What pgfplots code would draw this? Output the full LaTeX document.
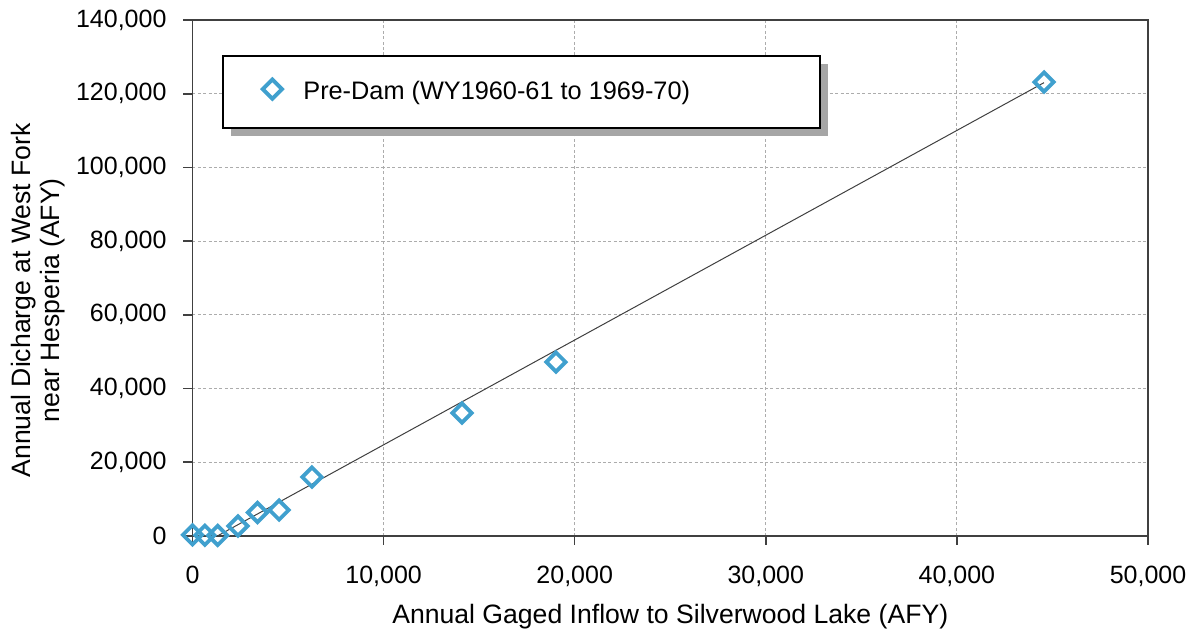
\documentclass[border=0pt]{standalone}
\usepackage{pgfplots}
\pgfplotsset{compat=1.18}
\usepackage{fontspec}
\setmainfont{Liberation Sans}
\definecolor{mk}{RGB}{64,160,206}
\definecolor{ax}{RGB}{64,64,64}
\begin{document}
\begin{tikzpicture}
\path[use as bounding box] (-96.25pt,-49.5pt) rectangle (503.25pt,268pt);
\begin{axis}[
  scale only axis,
  width=477.75pt, height=258pt,
  xmin=0, xmax=50000, ymin=0, ymax=140000,
  xtick={0,10000,20000,30000,40000,50000},
  xticklabels={0,{10,000},{20,000},{30,000},{40,000},{50,000}},
  ytick={0,20000,40000,60000,80000,100000,120000,140000},
  yticklabels={0,{20,000},{40,000},{60,000},{80,000},{100,000},{120,000},{140,000}},
  scaled ticks=false,
  font=\fontsize{12.5pt}{15pt}\selectfont,
  tick label style={font=\fontsize{12.5pt}{15pt}\selectfont},
  xticklabel style={yshift=-6.8pt},
  yticklabel style={xshift=-5pt},
  axis line style={ax, line width=0.8pt},
  tick style={ax, line width=0.8pt},
  tick align=outside,
  major tick length=4.5pt,
  xtick pos=left, ytick pos=left,
  grid=major,
  major grid style={gray!65, line width=0.5pt, dash pattern=on 1.5pt off 1.2pt},
  xlabel={Annual Gaged Inflow to Silverwood Lake (AFY)},
  xlabel style={at={(axis description cs:0.5,0)}, anchor=center, yshift=-40.5pt, font=\fontsize{13.3pt}{15pt}\selectfont},
  ylabel={Annual Dicharge at West Fork\\near Hesperia (AFY)},
  ylabel style={at={(axis description cs:-0.1620,0.457)}, anchor=center, align=center, font=\fontsize{13.3pt}{14.5pt}\selectfont},
  legend style={at={(axis description cs:0.0319,0.9302)}, anchor=north west,
    draw=none, fill=none, inner sep=0pt,
    nodes={inner sep=0pt}, font=\fontsize{12.65pt}{15pt}\selectfont},
  legend image code/.code={
    \path[draw=none, fill=none] (0pt,-17.6pt) rectangle (40pt,17.6pt);
    \draw[#1, mark repeat=1, mark phase=1] plot coordinates {(24.5pt,1.25pt)};
  },
]
\fill[black!35] (axis description cs:0.0403,0.9147) rectangle (axis description cs:0.6651,0.7752);
\draw[black, line width=0.8pt, fill=white] (axis description cs:0.0319,0.9302) rectangle (axis description cs:0.6567,0.7907);
\addplot[only marks, mark=square, mark size=3.4pt,
  mark options={draw=mk, fill=white, line width=1.9pt, rotate=45}]
  coordinates {
  (0,300) (650,200) (1320,150) (2380,2710) (3400,6380)
  (4530,7050) (6250,16000) (14100,33370) (19020,47200) (44560,123170)
};
\addlegendentry{\makebox[258.5pt][l]{Pre-Dam (WY1960-61 to 1969-70)}}
\addplot[black!75, line width=0.5pt, forget plot] coordinates {(1300,0) (44560,123000)};
\end{axis}
\end{tikzpicture}
\end{document}
